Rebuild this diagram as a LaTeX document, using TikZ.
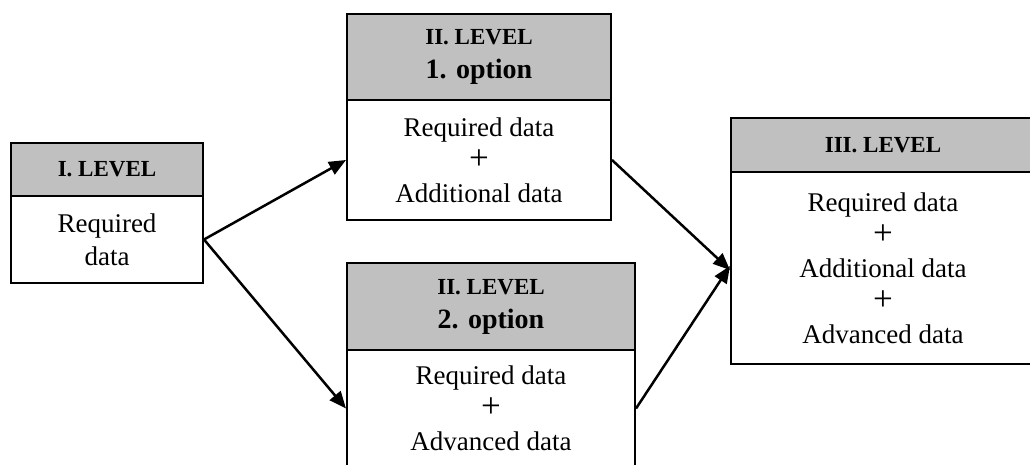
\documentclass[tikz,border=0pt]{standalone}
\usepackage{fontspec}
\setmainfont{Liberation Serif}
\usetikzlibrary{arrows.meta}
\definecolor{hdrgray}{HTML}{C0C0C0}
\newcommand{\plussign}{{\fontsize{35}{33}\selectfont +}}
\tikzset{
  box/.style={draw=black, line width=2pt, inner sep=0pt, anchor=north west, align=center},
  hdr/.style={box, fill=hdrgray, font=\fontsize{23}{34}\selectfont\bfseries},
  body/.style={box, fill=white, font=\fontsize{27}{33}\selectfont},
  conn/.style={line width=2.5pt, -{Triangle[length=17pt,width=14pt]}}
}
\begin{document}
\begin{tikzpicture}[x=1pt,y=-1pt]
\useasboundingbox (0,0) rectangle (1030,464);
% Level I
\node[hdr, minimum width=192pt, minimum height=53pt] (h1) at (10,142) {I. LEVEL};
\node[body, minimum width=192pt, minimum height=87pt] (b1) at (10,195) {Required\\data};
% Level II option 1
\node[hdr, minimum width=264pt, minimum height=86pt] (h21) at (346,13) {II. LEVEL\\{\fontsize{28}{34}\selectfont 1. option}};
\node[body, minimum width=264pt, minimum height=120pt] (b21) at (346,99) {Required data\\\plussign\\Additional data};
% Level II option 2
\node[hdr, minimum width=288pt, minimum height=87pt] (h22) at (346,262) {II. LEVEL\\{\fontsize{28}{34}\selectfont 2. option}};
\node[body, minimum width=288pt, minimum height=117pt] (b22) at (346,349) {Required data\\\plussign\\Advanced data};
% Level III
\node[hdr, minimum width=304pt, minimum height=54pt] (h3) at (730,117) {III. LEVEL};
\node[body, minimum width=304pt, minimum height=192pt] (b3) at (730,171) {Required data\\\plussign\\Additional data\\\plussign\\Advanced data};
% connectors
\draw[conn] (b1.east) -- (b21.west);
\draw[conn] (b1.east) -- (b22.west);
\draw[conn] (b21.east) -- ([yshift=-2pt]b3.west);
\draw[conn] (b22.east) -- ([yshift=2pt]b3.west);
\end{tikzpicture}
\end{document}
